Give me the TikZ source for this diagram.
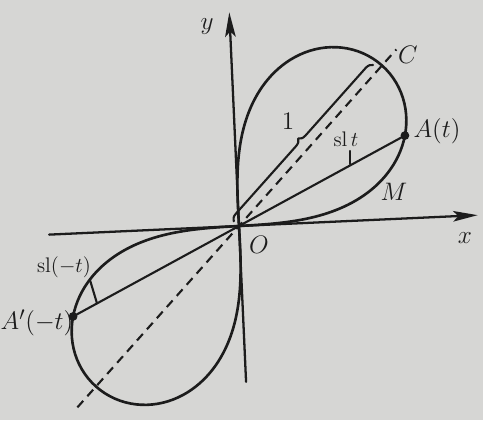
\documentclass[tikz,border=0pt]{standalone}
\usetikzlibrary{arrows.meta,decorations.pathreplacing}
\begin{document}
\begin{tikzpicture}[x=0.02cm,y=0.02cm,line cap=round,line join=round]
\definecolor{paper}{RGB}{214,214,212}
\definecolor{ink}{RGB}{28,28,28}
\tikzset{
 axis/.style={draw=ink, line width=1.3pt, -{Stealth[length=14pt,width=6pt,inset=3pt]}},
 curve/.style={draw=ink, line width=1.5pt},
 chord/.style={draw=ink, line width=1.2pt},
 axisdash/.style={draw=ink, line width=1.2pt, line cap=butt, dash pattern=on 5pt off 3.5pt},
 lbl/.style={text=ink, font=\fontsize{15}{17}\selectfont},
 small/.style={text=ink, font=\fontsize{12}{14}\selectfont},
 dot/.style={circle, fill=ink, inner sep=0pt, minimum size=5pt},
}
\fill[paper] (-239,-194) rectangle (244,226);
\useasboundingbox (-239,-194) rectangle (244,226);
\def\a{215}
\coordinate (O) at (0,0);
\begin{scope}[rotate=2.6]
 \coordinate (xl) at (-190,0); \coordinate (xr) at (239,0);
 \coordinate (yb) at (0,-156); \coordinate (yt) at (0,214);
\end{scope}
\draw[axis] (xl) -- (xr);
\draw[axis] (yb) -- (yt);
\begin{scope}[rotate=48.3]
 \draw[curve] plot[domain=0:360, samples=241, variable=\t]
   ({\a*cos(\t)/(1+sin(\t)^2)}, {\a*sin(\t)*cos(\t)/(1+sin(\t)^2)}) -- cycle;
 \coordinate (C) at (\a,0);
 \coordinate (Cb) at (0.975*\a,0);
 \coordinate (dt) at (1.1*\a,0);
 \coordinate (db) at (-1.13*\a,0);
 \coordinate (A) at (177.9,-63.7);
 \coordinate (Ap) at (-177.9,63.7);
\end{scope}
\draw[axisdash] (db) -- (dt);
\draw[chord] (O) -- (A);
\draw[chord] (O) -- (Ap);
\draw[chord, decorate, decoration={brace, amplitude=4pt, raise=4pt}] (O) -- (Cb);
\coordinate (t1a) at (111,62); \coordinate (t1b) at (111,75);
\coordinate (t2a) at (-142,-77.4); \coordinate (t2b) at (-149,-54);
\draw[chord] (t1a) -- (t1b);
\draw[chord] (t2a) -- (t2b);
\node[dot] (Adot) at (A) {};
\node[dot] (Apdot) at (Ap) {};
\node[lbl] (lA) at (198,95) {$A(t)$};
\node[lbl] (lAp) at (-202,-97) {$A'(-t)$};
\node[lbl] (lC) at (169,171) {$C$};
\node[lbl] (lM) at (155,34) {$M$};
\node[lbl] (lO) at (20,-19) {$O$};
\node[lbl] (lx) at (226,-12) {$x$};
\node[lbl] (ly) at (-32,199) {$y$};
\node[lbl] (l1) at (49,105) {$1$};
\node[small] (lslt) at (107,87) {$\mathrm{sl}\,t$};
\node[small] (lslmt) at (-175,-41) {$\mathrm{sl}(-t)$};
\end{tikzpicture}
\end{document}
